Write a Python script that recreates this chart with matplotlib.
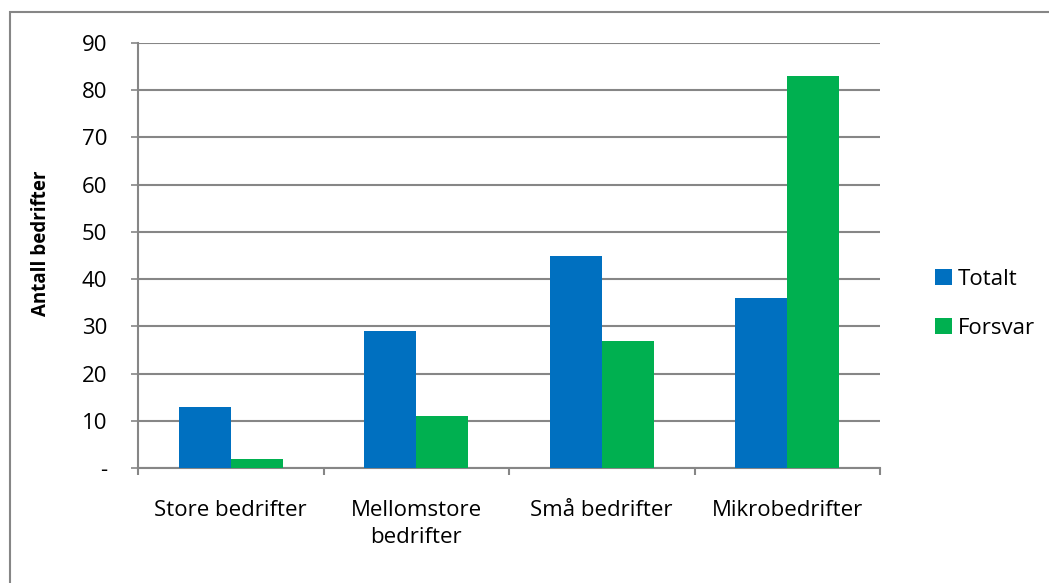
import matplotlib.pyplot as plt
from matplotlib.patches import Rectangle
import numpy as np

plt.rcParams['font.family'] = ['Open Sans', 'DejaVu Sans']

categories = ['Store bedrifter', 'Mellomstore\nbedrifter', 'Små bedrifter', 'Mikrobedrifter']
totalt = [13, 29, 45, 36]
forsvar = [2, 11, 27, 83]
yticks = [0, 10, 20, 30, 40, 50, 60, 70, 80, 90]
ylabels = ['-', '10', '20', '30', '40', '50', '60', '70', '80', '90']

grey = '#868686'
fs = 16
fig = plt.figure(figsize=(10.49, 5.83), dpi=100)
ax = fig.add_axes([138 / 1049, 1 - 468 / 583, (880 - 138) / 1049, (468 - 43) / 583])

x = np.arange(len(categories))
w = 0.28
ax.bar(x - w / 2, totalt, w, color='#0070C0', label='Totalt', zorder=3)
ax.bar(x + w / 2, forsvar, w, color='#00B050', label='Forsvar', zorder=3)

ax.set_xlim(-0.5, len(categories) - 0.5)
ax.set_ylim(0, 90)
ax.set_yticks(yticks)
ax.set_yticklabels(ylabels, fontsize=fs)
ax.yaxis.grid(True, color=grey, linewidth=1.5, zorder=0)
ax.tick_params(axis='y', length=5, width=1.2, color=grey, pad=17)

ax.set_xticks(x)
ax.set_xticklabels(categories, fontsize=fs, linespacing=1.4)
ax.set_xticks(np.arange(-0.5, len(categories), 1), minor=True)
ax.tick_params(axis='x', which='major', length=0, pad=23)
ax.tick_params(axis='x', which='minor', length=5, width=1.5, color=grey)

for s in ['top', 'right']:
    ax.spines[s].set_visible(False)
for s in ['left', 'bottom']:
    ax.spines[s].set_color(grey)
    ax.spines[s].set_linewidth(1.5)

ax.set_ylabel('Antall bedrifter', fontsize=13.5, fontweight='bold')
ax.yaxis.set_label_coords(-0.117, 0.53)

ax.legend(loc='center left', bbox_to_anchor=(1.047, 0.386), frameon=False,
          fontsize=fs, handlelength=0.75, handleheight=0.75, labelspacing=1.25,
          handletextpad=0.3)

fig.patches.append(Rectangle((10 / 1049, -0.1), 1.2, 1 - 12 / 583 + 0.1,
                             transform=fig.transFigure, fill=False,
                             edgecolor=grey, linewidth=1.5))

fig.savefig('out.png', dpi=100)
